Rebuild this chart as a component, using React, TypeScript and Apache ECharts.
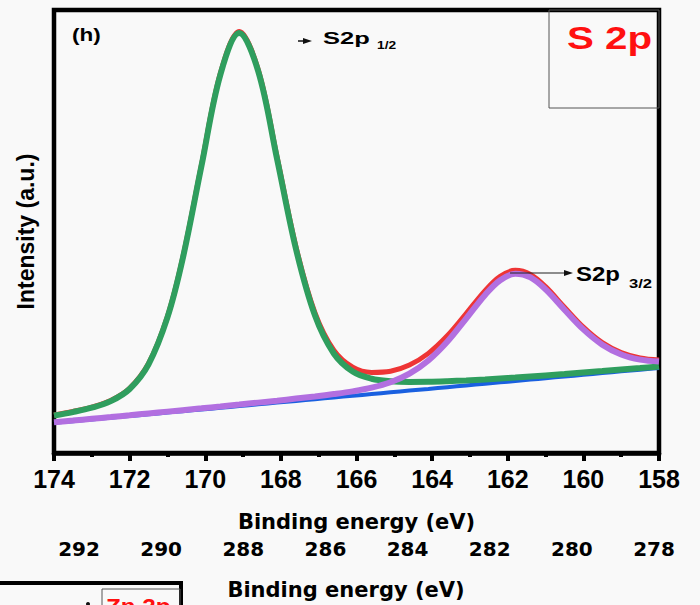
import React, { useEffect, useRef } from 'react';
import * as echarts from 'echarts';

// Binding energy (eV), shared by all fitted curves
const energy = [174, 173.5, 173, 172.5, 172, 171.5, 171, 170.6, 170.1, 169.6, 169.1, 168.6, 168.1, 167.6, 167.1, 166.6, 166.1, 165.6, 165.1, 164.6, 164.1, 163.6, 163.1, 162.6, 162.2, 161.8, 161.4, 161.0, 160.5, 160.0, 159.5, 159.0, 158.5, 158.0];

// S2p 1/2 component + background (green)
const s2p12 = [8.46, 9.24, 10.22, 11.7, 14.45, 20.02, 30.6, 43.7, 64.8, 85.42, 94.8, 86.2, 66.35, 46.02, 31.08, 22.46, 18.38, 16.76, 16.19, 16.04, 16.07, 16.2, 16.38, 16.61, 16.82, 17.03, 17.27, 17.51, 17.82, 18.16, 18.49, 18.84, 19.18, 19.55];

// S2p 3/2 component + background (purple)
const s2p32 = [6.92, 7.32, 7.73, 8.12, 8.52, 8.93, 9.34, 9.67, 10.08, 10.5, 10.93, 11.37, 11.81, 12.28, 12.76, 13.3, 13.92, 14.74, 15.97, 17.91, 20.89, 25.11, 30.34, 35.69, 39.01, 40.46, 39.63, 36.93, 32.35, 27.9, 24.46, 22.25, 21.08, 20.63];

// Envelope (red)
const envelope = [8.58, 9.37, 10.37, 11.86, 14.62, 20.21, 30.81, 43.93, 65.06, 85.71, 95.13, 86.58, 66.79, 46.54, 31.69, 23.22, 19.38, 18.19, 18.46, 19.86, 22.49, 26.45, 31.47, 36.66, 39.88, 41.23, 40.33, 37.56, 32.91, 28.41, 24.91, 22.66, 21.45, 20.98];

// Background (blue)
const background = [6.8, 7.19, 7.58, 7.96, 8.35, 8.74, 9.13, 9.44, 9.82, 10.21, 10.6, 10.99, 11.37, 11.76, 12.15, 12.54, 12.92, 13.31, 13.7, 14.09, 14.47, 14.86, 15.25, 15.64, 15.95, 16.26, 16.57, 16.88, 17.26, 17.65, 18.04, 18.43, 18.81, 19.2];

// Lower (cropped) panel axis range
const lowerAxisMin = 278;
const lowerAxisMax = 292;

const BG = '#f9f9f9';

function pairs(ys: number[]) {
  return energy.map((e, i) => [e, ys[i]]);
}

function txt(x: number, y: number, text: string, size: number, opts: any = {}) {
  return {
    type: 'text',
    x,
    y,
    scaleX: opts.scaleX ?? 1,
    z: 100,
    silent: true,
    style: {
      text,
      fill: opts.color ?? '#000',
      fontSize: size,
      fontWeight: 'bold',
      fontFamily: opts.family ?? 'Liberation Sans',
      align: opts.align ?? 'left',
      verticalAlign: 'middle',
      textAlign: opts.align ?? 'left',
      textVerticalAlign: 'middle',
    },
  };
}

export default function App() {
  const ref = useRef<HTMLDivElement>(null);
  useEffect(() => {
    const chart = echarts.init(ref.current!, null, { renderer: 'svg' });
    const line = (name: string, ys: number[], color: string, width: number, z: number) => ({
      name,
      type: 'line',
      xAxisIndex: 0,
      yAxisIndex: 0,
      data: pairs(ys),
      showSymbol: false,
      smooth: 0.35,
      silent: true,
      z,
      lineStyle: { color, width },
    });
    chart.setOption({
      animation: false,
      backgroundColor: BG,
      grid: [
        { left: 54, right: 41, top: 10, bottom: 152, show: true, borderColor: '#000', borderWidth: 4.5, backgroundColor: 'transparent' },
        { left: 79, right: 46, top: 526, height: 2 },
      ],
      xAxis: [
        {
          type: 'value', gridIndex: 0, inverse: true, min: 158, max: 174, interval: 2,
          axisLine: { show: true, lineStyle: { color: '#000', width: 4.5 } },
          axisTick: { show: true, inside: false, length: 8, lineStyle: { color: '#000', width: 4 } },
          minorTick: { show: true, splitNumber: 2, length: 4, lineStyle: { color: '#000', width: 4 } },
          splitLine: { show: false },
          axisLabel: { fontSize: 25, fontWeight: 'bold', fontFamily: 'Liberation Sans', color: '#000', margin: 13 },
          name: 'Binding energy (eV)', nameLocation: 'middle', nameGap: 58,
          nameTextStyle: { fontSize: 21, fontWeight: 'bold', fontFamily: 'DejaVu Sans', color: '#000' },
        },
        {
          type: 'value', gridIndex: 1, inverse: true, min: lowerAxisMin, max: lowerAxisMax, interval: 2,
          axisLine: { show: false }, axisTick: { show: false }, splitLine: { show: false },
          axisLabel: { fontSize: 20, fontWeight: 'bold', fontFamily: 'DejaVu Sans', color: '#000', margin: 11 },
        },
      ],
      yAxis: [
        {
          type: 'value', gridIndex: 0, min: 0, max: 100,
          axisLine: { show: false }, axisTick: { show: false }, axisLabel: { show: false }, splitLine: { show: false },
          name: 'Intensity (a.u.)', nameLocation: 'middle', nameGap: 17,
          nameTextStyle: { fontSize: 23, fontWeight: 'bold', fontFamily: 'Liberation Sans', color: '#000' },
        },
        { type: 'value', gridIndex: 1, min: 0, max: 1, show: false },
      ],
      series: [
        line('Background', background, '#1a60e0', 4, 2),
        line('Envelope', envelope, '#ee3535', 5, 3),
        line('S2p 1/2', s2p12, '#2f9e5e', 6, 4),
        line('S2p 3/2', s2p32, '#b26fe0', 6, 5),
      ],
      graphic: [
        // legend box top right
        { type: 'rect', z: 90, silent: true, shape: { x: 549, y: 10, width: 110, height: 98 }, style: { fill: 'none', stroke: '#555', lineWidth: 1 } },
        txt(567, 38, 'S 2p', 31, { color: '#ff1010', scaleX: 1.3 }),
        txt(72, 35, '(h)', 18, { scaleX: 1.25 }),
        // S2p 1/2 annotation
        { type: 'line', z: 100, silent: true, shape: { x1: 298, y1: 41, x2: 305, y2: 41 }, style: { stroke: '#111', lineWidth: 1.5 } },
        { type: 'polygon', z: 100, silent: true, shape: { points: [[303, 38], [312, 41], [303, 44]] }, style: { fill: '#111' } },
        txt(323, 38, 'S2p', 17, { scaleX: 1.5 }),
        txt(377, 45, '1/2', 11, { scaleX: 1.25 }),
        // S2p 3/2 annotation
        { type: 'line', z: 100, silent: true, shape: { x1: 510, y1: 273, x2: 566, y2: 273 }, style: { stroke: '#222', lineWidth: 1.2 } },
        { type: 'polygon', z: 100, silent: true, shape: { points: [[564, 270], [573, 273], [564, 276]] }, style: { fill: '#111' } },
        txt(576, 274, 'S2p', 21, { scaleX: 1.14 }),
        txt(629, 284, '3/2', 12, { scaleX: 1.38 }),
        // lower cropped panel
        txt(346, 590, 'Binding energy (eV)', 21, { family: 'DejaVu Sans', align: 'center' }),
        { type: 'rect', z: 90, silent: true, shape: { x: -10, y: 583, width: 191, height: 60 }, style: { fill: 'none', stroke: '#000', lineWidth: 4 } },
        { type: 'rect', z: 90, silent: true, shape: { x: 102, y: 589, width: 78, height: 40 }, style: { fill: 'none', stroke: '#555', lineWidth: 1 } },
        txt(106, 606, 'Zn 2p', 22, { color: '#ff1010', scaleX: 1.1 }),
        { type: 'circle', z: 100, silent: true, shape: { cx: 88, cy: 604, r: 2 }, style: { fill: '#111' } },
      ],
    });
    return () => chart.dispose();
  }, []);
  return <div ref={ref} style={{ position: 'fixed', left: 0, top: 0, width: 700, height: 605, background: BG }} />;
}
